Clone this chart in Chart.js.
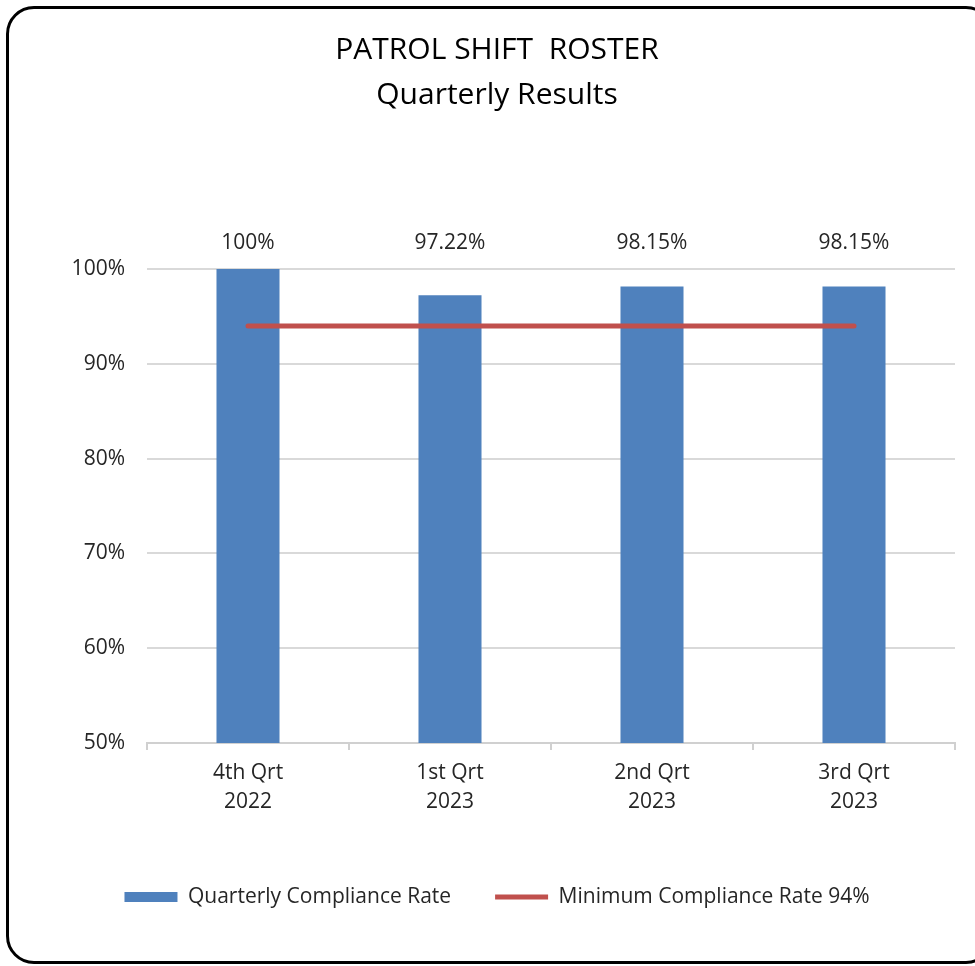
<!DOCTYPE html>
<html>
<head>
<meta charset="utf-8">
<title>Patrol Shift Roster</title>
<script src="https://cdn.jsdelivr.net/npm/chart.js@4/dist/chart.umd.min.js"></script>
<style>
    html, body {
        margin: 0;
        padding: 0;
        background: #ffffff;
        overflow: hidden;
        width: 975px;
        height: 966px;
    }

    .frame {
        position: absolute;
        left: 6px;
        top: 6px;
        width: 982px;
        height: 952px;
        border: 3px solid #000000;
        border-radius: 28px;
    }

    #rosterChart {
        position: absolute;
        left: 0;
        top: 0;
    }
</style>
</head>
<body>

<div class="frame"></div>
<canvas id="rosterChart" width="994" height="966"></canvas>

<script>

// ============================
// DATA
// ============================

const quarters = [
    ["4th Qrt", "2022"],
    ["1st Qrt", "2023"],
    ["2nd Qrt", "2023"],
    ["3rd Qrt", "2023"]
];

const complianceRates = [100, 97.22, 98.15, 98.15];

const minimumRates = [94, 94, 94, 94];

const titleLines = ["PATROL SHIFT  ROSTER", "Quarterly Results"];

const seriesNames = ["Quarterly Compliance Rate", "Minimum Compliance Rate 94%"];

const yMin = 50;
const yMax = 100;
const yStep = 10;

const FONT = "'Open Sans', sans-serif";
const TEXT_COLOR = "#262626";

// ============================
// VALUE LABELS ABOVE BARS
// ============================

// Excel puts them all on one row just above the 100% line
const barLabels = {

    id: "barLabels",

    afterDatasetsDraw(chart) {

        const ctx = chart.ctx;
        const meta = chart.getDatasetMeta(0);
        const labelY = chart.scales.y.getPixelForValue(yMax) - 26;

        ctx.save();
        ctx.font = "21px " + FONT;
        ctx.fillStyle = TEXT_COLOR;
        ctx.textAlign = "center";
        ctx.textBaseline = "middle";

        meta.data.forEach((bar, i) => {

            ctx.fillText(complianceRates[i] + "%", bar.x, labelY);

        });

        ctx.restore();

    }

};

// ============================
// CHART
// ============================

new Chart(document.getElementById("rosterChart"), {

    type: "bar",

    data: {

        labels: quarters,

        datasets: [
            {
                type: "bar",
                label: seriesNames[0],
                data: complianceRates,
                backgroundColor: "#4F81BD",
                borderWidth: 0,
                categoryPercentage: 1,
                barPercentage: 0.312,
                pointStyle: "rect",
                order: 1
            },
            {
                type: "line",
                label: seriesNames[1],
                data: minimumRates,
                borderColor: "#C0504D",
                backgroundColor: "#C0504D",
                borderWidth: 5,
                borderCapStyle: "round",
                pointRadius: 0,
                pointHoverRadius: 0,
                pointStyle: "line",
                fill: false,
                order: 0
            }
        ]

    },

    options: {

        responsive: false,
        animation: false,

        layout: {
            padding: { left: 39, right: 39, top: 0, bottom: 48.5 }
        },

        plugins: {

            title: {
                display: true,
                text: titleLines,
                color: "#000000",
                font: { family: FONT, size: 30, weight: "normal", lineHeight: 1.5 },
                padding: { top: 28, bottom: 151 }
            },

            legend: {
                position: "bottom",
                labels: {
                    color: TEXT_COLOR,
                    font: { family: FONT, size: 21 },
                    usePointStyle: true,
                    pointStyleWidth: 53,
                    boxHeight: 10,
                    padding: 44,
                    sort: (a, b) => a.datasetIndex - b.datasetIndex
                }
            },

            tooltip: { enabled: false }

        },

        scales: {

            x: {
                offset: true,
                afterFit: (scale) => { scale.height = 99.5; },
                grid: {
                    display: true,
                    offset: true,
                    drawOnChartArea: false,
                    drawTicks: true,
                    tickLength: 7,
                    color: "#D0D0D0",
                    lineWidth: 2
                },
                border: { display: true, color: "#D0D0D0", width: 2 },
                ticks: {
                    color: TEXT_COLOR,
                    font: { family: FONT, size: 21, lineHeight: 1.38 },
                    padding: 9,
                    maxRotation: 0
                }
            },

            y: {
                min: yMin,
                max: yMax,
                afterFit: (scale) => { scale.width = 108; },
                grid: {
                    color: "#D9D9D9",
                    lineWidth: 2,
                    drawTicks: false
                },
                border: { display: false },
                ticks: {
                    stepSize: yStep,
                    color: TEXT_COLOR,
                    font: { family: FONT, size: 21 },
                    padding: 22,
                    callback: (value) => value + "%"
                }
            }

        }

    },

    plugins: [barLabels]

});

</script>
</body>
</html>
